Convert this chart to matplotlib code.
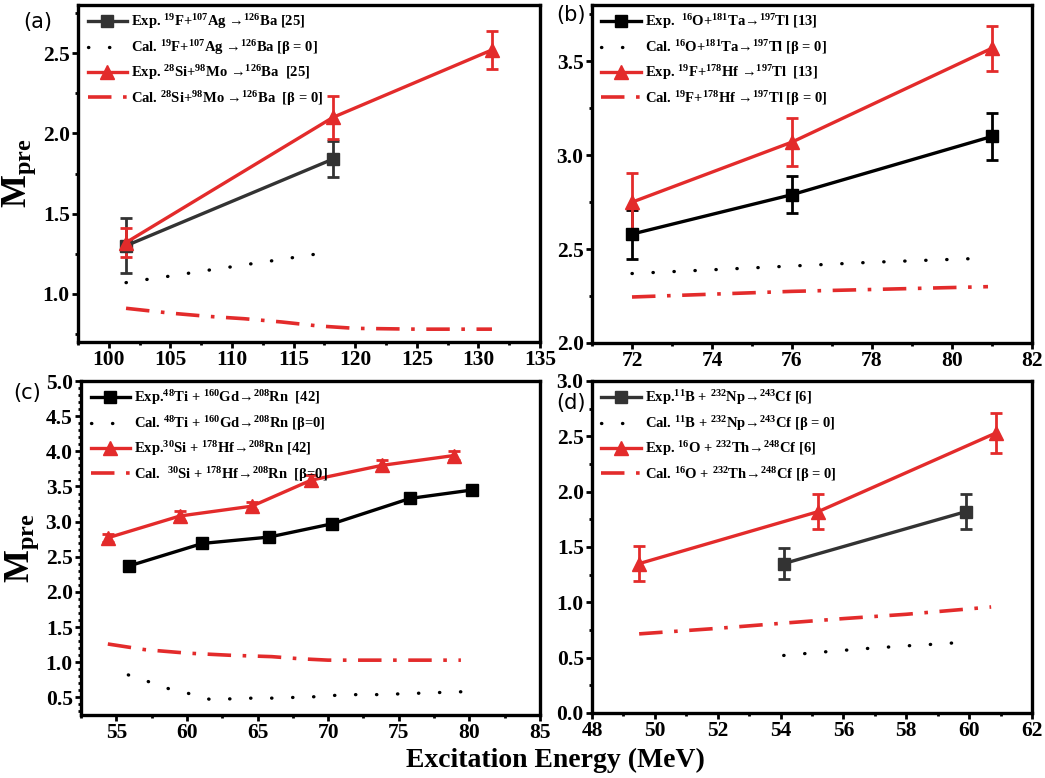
import numpy as np
import matplotlib
matplotlib.use('Agg')
import matplotlib.pyplot as plt
from matplotlib.ticker import MultipleLocator

plt.rcParams['font.family'] = ['Liberation Serif', 'DejaVu Serif']
plt.rcParams['font.weight'] = 'bold'
plt.rcParams['mathtext.fontset'] = 'custom'
plt.rcParams['mathtext.rm'] = 'Liberation Serif:bold'
plt.rcParams['mathtext.it'] = 'Liberation Serif:bold'
plt.rcParams['mathtext.bf'] = 'Liberation Serif:bold'

RED = '#e32b2b'

# (a) 126Ba
a_exp1_x = [101.4, 118.2]
a_exp1_y = [1.30, 1.84]
a_exp1_err = [0.17, 0.11]
a_cal1_x = [101.4, 103.1, 104.9, 106.6, 108.3, 110.1, 111.8, 113.6, 115.3, 117.0]
a_cal1_y = [1.07, 1.09, 1.11, 1.13, 1.15, 1.17, 1.19, 1.21, 1.23, 1.25]
a_exp2_x = [101.4, 118.2, 131.1]
a_exp2_y = [1.32, 2.10, 2.52]
a_exp2_err = [0.09, 0.135, 0.12]
a_cal2_x = [101.4, 105, 108, 111, 114, 117, 120, 125, 131.1]
a_cal2_y = [0.91, 0.88, 0.86, 0.845, 0.825, 0.80, 0.785, 0.78, 0.78]
a_labels = [r'Exp. $^{19}$F+$^{107}$Ag →$^{126}$Ba [25]',
            r'Cal. $^{19}$F+$^{107}$Ag →$^{126}$Ba [β = 0]',
            r'Exp. $^{28}$Si+$^{98}$Mo →$^{126}$Ba  [25]',
            r'Cal. $^{28}$Si+$^{98}$Mo →$^{126}$Ba  [β = 0]']

# (b) 197Tl
b_exp1_x = [72, 76, 81]
b_exp1_y = [2.58, 2.79, 3.10]
b_exp1_err = [0.13, 0.10, 0.125]
b_cal1_x = [72, 74, 76, 78, 80.6]
b_cal1_y = [2.37, 2.39, 2.41, 2.43, 2.45]
b_exp2_x = [72, 76, 81]
b_exp2_y = [2.75, 3.07, 3.57]
b_exp2_err = [0.155, 0.13, 0.12]
b_cal2_x = [72, 74, 76, 78, 80.9]
b_cal2_y = [2.245, 2.26, 2.275, 2.285, 2.30]
b_labels = [r'Exp.  $^{16}$O+$^{181}$Ta→$^{197}$Tl [13]',
            r'Cal. $^{16}$O+$^{181}$Ta→$^{197}$Tl [β = 0]',
            r'Exp. $^{19}$F+$^{178}$Hf →$^{197}$Tl  [13]',
            r'Cal. $^{19}$F+$^{178}$Hf →$^{197}$Tl [β = 0]']

# (c) 208Rn
c_exp1_x = [55.9, 61.1, 65.8, 70.3, 75.8, 80.2]
c_exp1_y = [2.37, 2.69, 2.78, 2.97, 3.33, 3.45]
c_exp1_err = [0.07, 0.05, 0.05, 0.05, 0.06, 0.06]
c_cal1_x = [55.85, 57.2, 58.6, 60.25, 61.66, 63.15, 64.66, 66.14, 67.6,
            69.1, 70.55, 72.0, 73.5, 75.0, 76.45, 77.9, 79.4]
c_cal1_y = [0.82, 0.73, 0.63, 0.55, 0.47, 0.48, 0.49, 0.49, 0.50,
            0.51, 0.53, 0.54, 0.54, 0.55, 0.56, 0.57, 0.58]
c_exp2_x = [54.4, 59.5, 64.6, 68.8, 73.8, 78.9]
c_exp2_y = [2.77, 3.08, 3.22, 3.59, 3.80, 3.94]
c_exp2_err = [0.06, 0.07, 0.06, 0.07, 0.08, 0.07]
c_cal2_x = [54.4, 57, 60, 63, 66, 68, 70, 74, 79.4]
c_cal2_y = [1.26, 1.18, 1.13, 1.10, 1.08, 1.05, 1.03, 1.03, 1.03]
c_labels = [r'Exp.$^{48}$Ti + $^{160}$Gd→$^{208}$Rn  [42]',
            r'Cal. $^{48}$Ti + $^{160}$Gd→$^{208}$Rn [β=0]',
            r'Exp.$^{30}$Si + $^{178}$Hf→$^{208}$Rn [42]',
            r'Cal.  $^{30}$Si + $^{178}$Hf→$^{208}$Rn  [β=0]']

# (d) Cf
d_exp1_x = [54.1, 59.9]
d_exp1_y = [1.35, 1.82]
d_exp1_err = [0.14, 0.16]
d_cal1_x = [54.1, 55.3, 56.6, 57.9, 59.1, 59.7]
d_cal1_y = [0.52, 0.55, 0.58, 0.605, 0.625, 0.637]
d_exp2_x = [49.5, 55.2, 60.85]
d_exp2_y = [1.35, 1.82, 2.53]
d_exp2_err = [0.16, 0.16, 0.18]
d_cal2_x = [49.5, 52, 54, 56, 58, 60.7]
d_cal2_y = [0.715, 0.765, 0.81, 0.853, 0.892, 0.958]
d_labels = [r'Exp.$^{11}$B + $^{232}$Np→$^{243}$Cf [6]',
            r'Cal. $^{11}$B + $^{232}$Np→$^{243}$Cf [β = 0]',
            r'Exp. $^{16}$O + $^{232}$Th→$^{248}$Cf [6]',
            r'Cal. $^{16}$O + $^{232}$Th→$^{248}$Cf [β = 0]']

W, H = 1045, 778
fig = plt.figure(figsize=(W / 100, H / 100), dpi=100)


def box(l, t, r, b):
    return [l / W, 1 - b / H, (r - l) / W, (b - t) / H]


def panel(rect, data, labels, black, xlim, ylim, xmaj, xmin, ymaj, ymin, tag, tagpos):
    ax = fig.add_axes(box(*rect))
    ex1x, ex1y, ex1e, c1x, c1y, ex2x, ex2y, ex2e, c2x, c2y = data
    h1 = ax.errorbar(ex1x, ex1y, yerr=ex1e, color=black, lw=2.4, marker='s', ms=9,
                     capsize=4, capthick=2, elinewidth=2)
    h2, = ax.plot(c1x, c1y, color='black', lw=2.4, linestyle=(0, (0.1, 6.2)),
                  dash_capstyle='round')
    h3 = ax.errorbar(ex2x, ex2y, yerr=ex2e, color=RED, lw=2.4, marker='^', ms=10,
                     capsize=4, capthick=2, elinewidth=2)
    h4, = ax.plot(c2x, c2y, color=RED, lw=2.6, linestyle=(0, (6.5, 3.2, 1, 3.2)))
    ax.set_xlim(*xlim)
    ax.set_ylim(*ylim)
    ax.xaxis.set_major_locator(MultipleLocator(xmaj))
    ax.xaxis.set_minor_locator(MultipleLocator(xmin))
    ax.yaxis.set_major_locator(MultipleLocator(ymaj))
    ax.yaxis.set_minor_locator(MultipleLocator(ymin))
    ax.tick_params(which='both', direction='out', width=2, labelsize=15.5, top=False,
                   right=False, pad=2)
    ax.tick_params(which='major', length=4)
    ax.tick_params(which='minor', length=2.5)
    for s in ax.spines.values():
        s.set_linewidth(2.4)
    ax.legend([h1[0], h2, h3[0], h4], labels, loc='upper left', frameon=False,
              fontsize=10.5, handlelength=2.7, handletextpad=0.3, labelspacing=0.45,
              borderaxespad=0.3, borderpad=0.2, bbox_to_anchor=(0.005, 1.0))
    fig.text(tagpos[0] / W, 1 - tagpos[1] / H, tag, family='DejaVu Sans',
             fontweight='normal', fontsize=15, ha='left', va='center')
    return ax


ax_a = panel((78, 5, 540, 342),
             (a_exp1_x, a_exp1_y, a_exp1_err, a_cal1_x, a_cal1_y,
              a_exp2_x, a_exp2_y, a_exp2_err, a_cal2_x, a_cal2_y),
             a_labels, '#333333', (97.5, 135), (0.7, 2.8), 5, 2.5, 0.5, 0.25,
             '(a)', (23, 22))
ax_b = panel((592, 5, 1032, 343),
             (b_exp1_x, b_exp1_y, b_exp1_err, b_cal1_x, b_cal1_y,
              b_exp2_x, b_exp2_y, b_exp2_err, b_cal2_x, b_cal2_y),
             b_labels, 'black', (71, 82), (2.0, 3.8), 2, 1, 0.5, 0.25,
             '(b)', (556, 15))
ax_c = panel((81, 381, 540, 715),
             (c_exp1_x, c_exp1_y, c_exp1_err, c_cal1_x, c_cal1_y,
              c_exp2_x, c_exp2_y, c_exp2_err, c_cal2_x, c_cal2_y),
             c_labels, 'black', (52.5, 85), (0.25, 5.0), 5, 2.5, 0.5, 0.1,
             '(c)', (13, 393))
ax_d = panel((592, 381, 1032, 713),
             (d_exp1_x, d_exp1_y, d_exp1_err, d_cal1_x, d_cal1_y,
              d_exp2_x, d_exp2_y, d_exp2_err, d_cal2_x, d_cal2_y),
             d_labels, '#333333', (48, 62), (0.0, 3.0), 2, 1, 0.5, 0.25,
             '(d)', (556, 403))

for ax in (ax_a, ax_c):
    ax.set_ylabel(r'M$_{\mathrm{pre}}$', fontsize=25, fontweight='bold')
    ax.yaxis.set_label_coords(-40 / 462, 0.5)

fig.text(555 / W, 1 - 760 / H, 'Excitation Energy (MeV)', ha='center', va='center',
         fontsize=20, fontweight='bold')

fig.savefig('out.png', dpi=100)
